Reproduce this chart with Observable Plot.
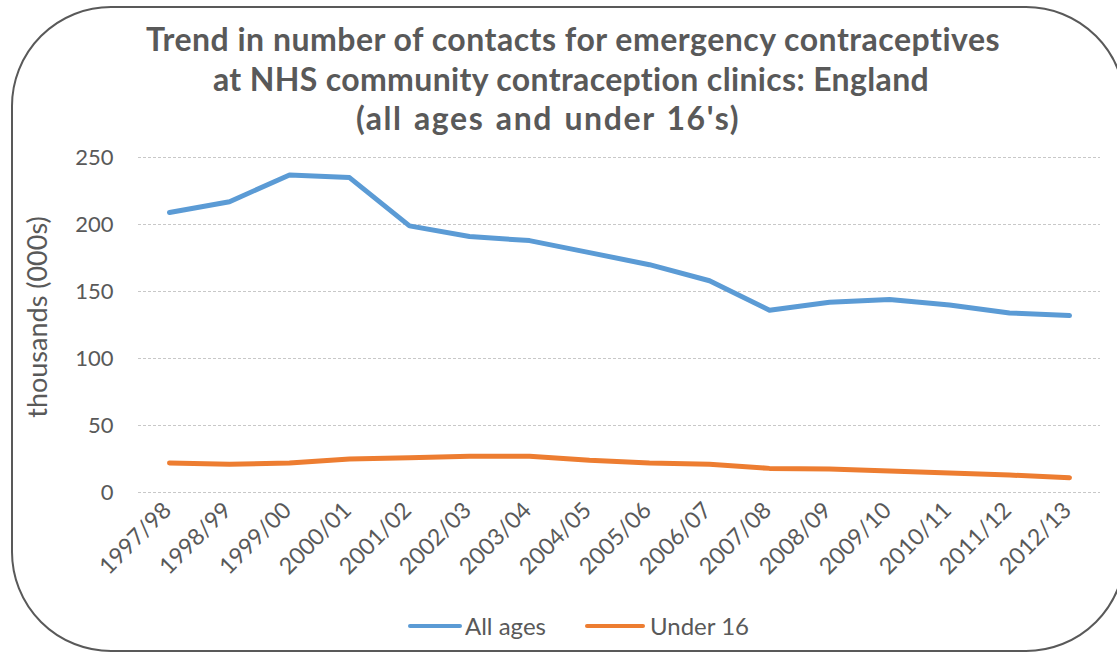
<!DOCTYPE html>
<html>
<head>
<meta charset="utf-8">
<script src="https://cdn.jsdelivr.net/npm/d3@7"></script>
<script src="https://cdn.jsdelivr.net/npm/@observablehq/plot@0.6"></script>
<style>
  html, body { margin: 0; padding: 0; background: #fff; }
  #wrap { position: relative; width: 1117px; height: 652px; overflow: hidden; font-family: Lato, "Open Sans", sans-serif; color: #595959; }
  #frame { position: absolute; left: 11px; top: 6px; width: 1115px; height: 646px; border: 2px solid #595959; border-radius: 100px; box-sizing: border-box; }
  #chart { position: absolute; left: 0; top: 0; }
  .title { position: absolute; width: 1000px; text-align: center; font-weight: bold; font-size: 32px; line-height: 40px; color: #595959; white-space: nowrap; }
  #legend { position: absolute; top: 610px; left: 0; width: 1117px; height: 32px; font-size: 24px; color: #595959; }
  .sw { position: absolute; top: 14px; height: 4px; border-radius: 2px; }
  .lt { position: absolute; top: 0px; line-height: 32px; white-space: nowrap; }
</style>
</head>
<body>
<div id="wrap">
  <div id="chart"></div>
  <div id="frame"></div>
  <div class="title" style="top:19px; left:73px; letter-spacing:0.5px">Trend in number of contacts for emergency contraceptives</div>
  <div class="title" style="top:59px; left:71px; letter-spacing:0.35px">at NHS community contraception clinics: England</div>
  <div class="title" style="top:98px; left:48px; letter-spacing:1.6px; word-spacing:2px">(all ages and under 16's)</div>
  <div id="legend"></div>
</div>
<script>
const years = ["1997/98","1998/99","1999/00","2000/01","2001/02","2002/03","2003/04","2004/05","2005/06","2006/07","2007/08","2008/09","2009/10","2010/11","2011/12","2012/13"];
const allAges = [209, 217, 237, 235, 199, 191, 188, 179, 170, 158, 136, 142, 144, 140, 134, 132];
const under16 = [22, 21, 22, 25, 26, 27, 27, 24, 22, 21, 18, 17.5, 16, 14.5, 13, 11];
const yTicks = [0, 50, 100, 150, 200, 250];
const seriesNames = ["All ages", "Under 16"];
const seriesColors = ["#5b9bd5", "#ed7d31"];
const yLabel = "thousands (000s)";

const rows = [];
years.forEach((y, i) => {
  rows.push({year: y, value: allAges[i], series: seriesNames[0]});
  rows.push({year: y, value: under16[i], series: seriesNames[1]});
});

const plot = Plot.plot({
  width: 1117,
  height: 652,
  marginTop: 157,
  marginBottom: 160,
  marginLeft: 138,
  marginRight: 17,
  style: {fontFamily: "Lato, 'Open Sans', sans-serif", color: "#595959", background: "transparent"},
  x: {type: "point", domain: years, padding: 0.5, axis: null},
  y: {domain: [0, 250]},
  color: {domain: seriesNames, range: seriesColors},
  marks: [
    Plot.ruleY(yTicks, {stroke: "#c8c8c8", strokeWidth: 1, strokeDasharray: "3,2"}),
    Plot.axisY({ticks: yTicks, tickSize: 0, tickPadding: 25, fontSize: 22, label: null}),
    Plot.text([yLabel], {frameAnchor: "left", textAnchor: "middle", dx: -100, dy: -8, rotate: -90, fontSize: 27, fill: "#595959"}),
    Plot.text(years, {x: d => d, frameAnchor: "bottom", rotate: -45, textAnchor: "end", lineAnchor: "middle", dx: -2, dy: 14, fontSize: 23, fill: "#595959"}),
    Plot.line(rows, {x: "year", y: "value", z: "series", stroke: "series", strokeWidth: 5, strokeLinecap: "round", strokeLinejoin: "round"})
  ]
});
document.getElementById("chart").appendChild(plot);

const legend = document.getElementById("legend");
const legendPos = [{sw: 408, tx: 465}, {sw: 585, tx: 650}];
seriesNames.forEach((n, i) => {
  const s = document.createElement("div");
  s.className = "sw";
  s.style.left = legendPos[i].sw + "px";
  s.style.width = (i === 0 ? 54 : 60) + "px";
  s.style.background = seriesColors[i];
  legend.appendChild(s);
  const t = document.createElement("div");
  t.className = "lt";
  t.style.left = legendPos[i].tx + "px";
  t.textContent = n;
  legend.appendChild(t);
});
</script>
</body>
</html>
